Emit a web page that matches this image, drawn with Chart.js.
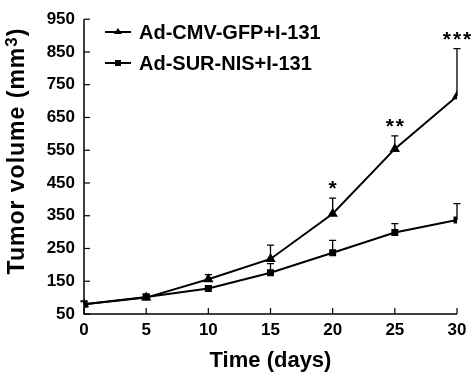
<!DOCTYPE html>
<html><head><meta charset="utf-8">
<script src="https://cdn.jsdelivr.net/npm/chart.js@4/dist/chart.umd.min.js"></script>
<style>html,body{margin:0;padding:0;background:#fff}#wrap{width:473px;height:376px}</style>
</head><body><div id="wrap"><canvas id="c" width="473" height="376"></canvas></div>
<script>
const days = [0, 5, 10, 15, 20, 25, 30];
const gfpMean = [80, 100, 156, 218, 356, 554, 715];
const gfpErr  = [10, 10, 14, 42, 48, 40, 145];
const nisMean = [80, 102, 128, 176, 237, 299, 337];
const nisErr  = [8, 8, 8, 28, 38, 27, 50];
const gfpStars = ['', '', '', '', '*', '**', '***'];
const xTicks = [0, 5, 10, 15, 20, 25, 30];
const yTicks = [50, 150, 250, 350, 450, 550, 650, 750, 850, 950];
const seriesNames = ['Ad-CMV-GFP+I-131', 'Ad-SUR-NIS+I-131'];
const yTitleParts = ['Tumor volume (mm', '3', ')'];

const FONT = '"Liberation Sans", Arial, sans-serif';

const extras = {
  id: 'extras',
  afterDatasetsDraw(chart) {
    const ctx = chart.ctx, xs = chart.scales.x, ys = chart.scales.y;
    ctx.save();
    // axes
    ctx.strokeStyle = '#000'; ctx.lineWidth = 1.5;
    ctx.beginPath();
    ctx.moveTo(xs.left, ys.top); ctx.lineTo(xs.left, ys.bottom); ctx.lineTo(xs.right, ys.bottom);
    ctx.stroke();
    ctx.lineWidth = 1.2;
    yTicks.forEach(v => { const y = ys.getPixelForValue(v); ctx.beginPath(); ctx.moveTo(xs.left, y); ctx.lineTo(xs.left + 6, y); ctx.stroke(); });
    xTicks.forEach(v => { const x = xs.getPixelForValue(v); ctx.beginPath(); ctx.moveTo(x, ys.bottom); ctx.lineTo(x, ys.bottom - 6); ctx.stroke(); });
    // error bars
    ctx.lineWidth = 1.3;
    const errs = [gfpErr, nisErr], means = [gfpMean, nisMean];
    for (let s = 0; s < 2; s++) {
      days.forEach((d, i) => {
        const x = xs.getPixelForValue(d);
        const y0 = ys.getPixelForValue(means[s][i]);
        const y1 = ys.getPixelForValue(means[s][i] + errs[s][i]);
        ctx.beginPath(); ctx.moveTo(x, y0); ctx.lineTo(x, y1);
        ctx.moveTo(x - 3.5, y1); ctx.lineTo(x + 3.5, y1); ctx.stroke();
      });
    }
    // stars
    ctx.fillStyle = '#000'; ctx.font = 'bold 21px ' + FONT; ctx.textAlign = 'left'; ctx.textBaseline = 'alphabetic';
    ctx.letterSpacing = '2px';
    days.forEach((d, i) => {
      if (!gfpStars[i]) return;
      const x = xs.getPixelForValue(d);
      const y = ys.getPixelForValue(gfpMean[i] + gfpErr[i]);
      const w = ctx.measureText(gfpStars[i]).width - 2;
      ctx.fillText(gfpStars[i], Math.min(x - w / 2, 472 - w), y - 3);
    });
    ctx.letterSpacing = '0px';
    // legend
    const items = [{ y: 32, style: 'triangle' }, { y: 63, style: 'rect' }];
    ctx.font = 'bold 20px ' + FONT; ctx.textAlign = 'left'; ctx.textBaseline = 'middle';
    items.forEach((it, k) => {
      ctx.lineWidth = 2; ctx.beginPath(); ctx.moveTo(105, it.y); ctx.lineTo(131, it.y); ctx.stroke();
      ctx.beginPath();
      if (it.style === 'triangle') { ctx.moveTo(118, it.y - 4); ctx.lineTo(122, it.y + 2); ctx.lineTo(114, it.y + 2); ctx.closePath(); }
      else { ctx.rect(115, it.y - 3, 6, 6); }
      ctx.fill();
      ctx.fillText(seriesNames[k], 139, it.y + 1);
    });
    // y title with superscript
    ctx.translate(18, 151);
    ctx.rotate(-Math.PI / 2);
    const big = 'bold 23px ' + FONT, small = 'bold 17px ' + FONT;
    ctx.letterSpacing = '1px';
    ctx.font = big; const w0 = ctx.measureText(yTitleParts[0]).width, w2 = ctx.measureText(yTitleParts[2]).width;
    ctx.font = small; const w1 = ctx.measureText(yTitleParts[1]).width;
    let x = -(w0 + w1 + w2) / 2;
    ctx.textBaseline = 'middle';
    ctx.font = big; ctx.fillText(yTitleParts[0], x, 0); x += w0;
    ctx.font = small; ctx.fillText(yTitleParts[1], x, -6); x += w1;
    ctx.font = big; ctx.fillText(yTitleParts[2], x, 0);
    ctx.restore();
  }
};

new Chart(document.getElementById('c'), {
  type: 'line',
  data: {
    datasets: [
      { label: seriesNames[0], data: days.map((d, i) => ({ x: d, y: gfpMean[i] })), borderColor: '#000', backgroundColor: '#000', borderWidth: 2, pointStyle: 'triangle', pointRadius: 4, tension: 0 },
      { label: seriesNames[1], data: days.map((d, i) => ({ x: d, y: nisMean[i] })), borderColor: '#000', backgroundColor: '#000', borderWidth: 2, pointStyle: 'rect', pointRadius: 3.5, tension: 0 }
    ]
  },
  options: {
    responsive: false, animation: false,
    layout: { padding: { left: 0, right: 16, top: 10, bottom: 0 } },
    plugins: { legend: { display: false }, tooltip: { enabled: false } },
    scales: {
      x: {
        type: 'linear', min: 0, max: 30,
        afterBuildTicks: s => { s.ticks = xTicks.map(v => ({ value: v })); },
        afterFit: s => { s.height = 62; },
        grid: { display: false, drawTicks: false }, border: { display: false },
        ticks: { color: '#000', font: { family: FONT, size: 17, weight: 'bold' }, padding: 6 },
        title: { display: true, text: 'Time (days)', color: '#000', font: { family: FONT, size: 22, weight: 'bold' }, padding: { top: 4, bottom: 2 } }
      },
      y: {
        type: 'linear', min: 50, max: 950,
        afterBuildTicks: s => { s.ticks = yTicks.map(v => ({ value: v })); },
        afterFit: s => { s.width = 84; },
        grid: { display: false, drawTicks: false }, border: { display: false },
        ticks: { color: '#000', font: { family: FONT, size: 17, weight: 'bold' }, padding: 9 },
        title: { display: false }
      }
    }
  },
  plugins: [extras]
});
</script></body></html>
